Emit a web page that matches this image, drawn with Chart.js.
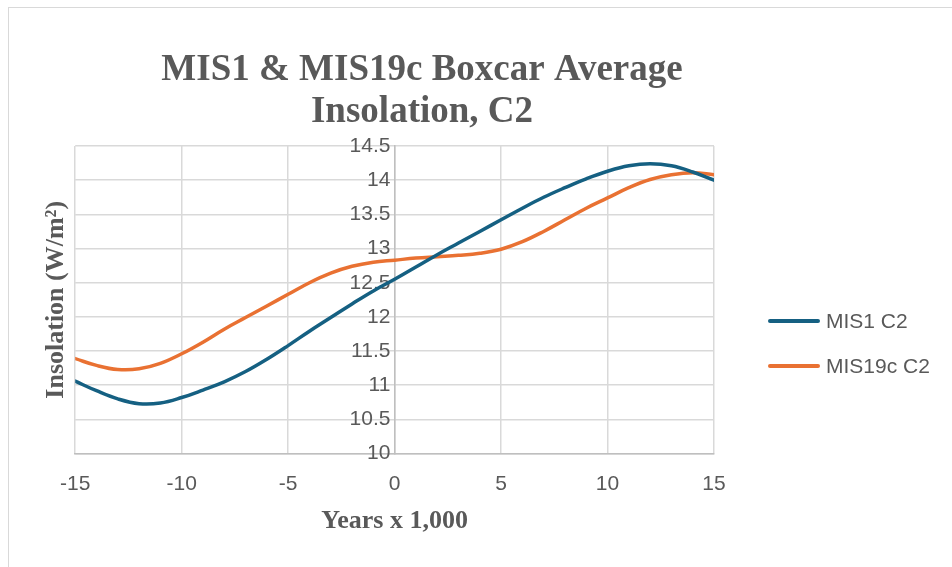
<!DOCTYPE html>
<html>
<head>
<meta charset="utf-8">
<title>MIS1 & MIS19c Boxcar Average Insolation, C2</title>
<script src="https://cdn.jsdelivr.net/npm/chart.js@4.4.0/dist/chart.umd.min.js"></script>
<style>
  html, body { margin: 0; padding: 0; background: #fff; overflow: hidden; }
  #wrap { position: relative; width: 952px; height: 567px; }
  #frame { position: absolute; left: 8px; top: 7px; width: 990px; height: 600px; border: 1px solid #d9d9d9; pointer-events: none; }
  #legend { position: absolute; left: 768px; top: 298px; font: 21px "Liberation Sans", Arial, sans-serif; color: #595959; }
  .item { display: flex; align-items: center; height: 45px; white-space: nowrap; }
  .swatch { width: 52px; height: 4px; border-radius: 2px; margin-right: 6px; }
</style>
</head>
<body>
<div id="wrap">
  <canvas id="chart" width="952" height="567"></canvas>
  <div id="frame"></div>
  <div id="legend"></div>
</div>
<script>
// years x 1,000
const years = [-15, -14, -13, -12, -11, -10, -9, -8, -7, -6, -5, -4, -3, -2, -1, 0,
               1, 2, 3, 4, 5, 6, 7, 8, 9, 10, 11, 12, 13, 14, 15];
const mis1 = [11.06, 10.92, 10.80, 10.73, 10.74, 10.82, 10.93, 11.05, 11.20, 11.38, 11.58,
              11.79, 11.99, 12.19, 12.38, 12.55, 12.73, 12.91, 13.08, 13.25, 13.42,
              13.59, 13.75, 13.89, 14.02, 14.13, 14.21, 14.24, 14.21, 14.12, 14.00];
const mis19c = [11.39, 11.29, 11.23, 11.24, 11.32, 11.46, 11.63, 11.82, 11.99, 12.16, 12.33,
                12.50, 12.64, 12.74, 12.80, 12.83, 12.86, 12.88, 12.90, 12.93, 12.99,
                13.10, 13.25, 13.42, 13.59, 13.74, 13.89, 14.01, 14.08, 14.11, 14.08];
const seriesNames = ['MIS1 C2', 'MIS19c C2'];
const seriesColors = ['#156082', '#E97132'];
const xTicks = { min: -15, max: 15, step: 5 };
const yTicks = { min: 10, max: 14.5, step: 0.5 };
const titleLines = ['MIS1 & MIS19c Boxcar Average', 'Insolation, C2'];
const xTitle = 'Years x 1,000';
const yTitle = 'Insolation (W/m\u00B2)';

const textGray = '#595959';
const gridGray = '#d9d9d9';
const axisGray = '#bfbfbf';
const sans = '"Liberation Sans", Arial, sans-serif';
const serif = '"Liberation Serif", "Times New Roman", serif';

const toPoints = vals => years.map((yr, i) => ({ x: yr, y: vals[i] }));

// Excel puts the title over the whole chart, not the plot area
const titlePlugin = {
  id: 'excelTitle',
  afterDraw(chart) {
    const ctx = chart.ctx;
    ctx.save();
    ctx.font = 'bold 37px ' + serif;
    ctx.fillStyle = textGray;
    ctx.textAlign = 'center';
    ctx.textBaseline = 'alphabetic';
    titleLines.forEach((t, i) => ctx.fillText(t, 422, 80 + i * 42));
    ctx.restore();
  }
};

const chart = new Chart(document.getElementById('chart'), {
  type: 'line',
  data: {
    datasets: [
      { label: seriesNames[0], data: toPoints(mis1), borderColor: seriesColors[0], backgroundColor: seriesColors[0] },
      { label: seriesNames[1], data: toPoints(mis19c), borderColor: seriesColors[1], backgroundColor: seriesColors[1] }
    ]
  },
  options: {
    responsive: false,
    animation: false,
    layout: { padding: { left: 37, right: 238, top: 146, bottom: 26 } },
    elements: {
      line: { borderWidth: 3.5, tension: 0.4, borderCapStyle: 'round', borderJoinStyle: 'round' },
      point: { radius: 0, hoverRadius: 0 }
    },
    plugins: {
      legend: { display: false },
      title: { display: false },
      tooltip: { enabled: false }
    },
    scales: {
      x: {
        type: 'linear',
        position: 'bottom',
        min: xTicks.min,
        max: xTicks.max,
        ticks: { stepSize: xTicks.step, padding: 18, color: textGray, font: { size: 21, family: sans } },
        grid: { color: gridGray, lineWidth: 1.5, drawTicks: false },
        border: { color: axisGray, width: 1.5 },
        title: { display: true, text: xTitle, color: textGray, padding: { top: -9, bottom: 4 },
                 font: { size: 26, weight: 'bold', family: serif } }
      },
      y: {
        type: 'linear',
        position: { x: 0 },
        min: yTicks.min,
        max: yTicks.max,
        ticks: { stepSize: yTicks.step, autoSkip: false, color: textGray, font: { size: 21, family: sans },
                 callback: v => String(Number(v.toFixed(1))) + '\u2009' },
        grid: { color: gridGray, lineWidth: 1.5, drawTicks: false },
        border: { color: axisGray, width: 1.5 }
      },
      yTitle: {
        type: 'linear',
        position: 'left',
        display: true,
        min: yTicks.min,
        max: yTicks.max,
        ticks: { display: false },
        grid: { display: false, drawTicks: false },
        border: { display: false },
        title: { display: true, text: yTitle, color: textGray, padding: { top: 4, bottom: 3 },
                 font: { size: 26, weight: 'bold', family: serif } }
      }
    }
  },
  plugins: [titlePlugin]
});

// legend built from the datasets
const legendEl = document.getElementById('legend');
chart.data.datasets.forEach(ds => {
  const item = document.createElement('div');
  item.className = 'item';
  const sw = document.createElement('span');
  sw.className = 'swatch';
  sw.style.background = ds.borderColor;
  const txt = document.createElement('span');
  txt.textContent = ds.label;
  item.appendChild(sw);
  item.appendChild(txt);
  legendEl.appendChild(item);
});
</script>
</body>
</html>
